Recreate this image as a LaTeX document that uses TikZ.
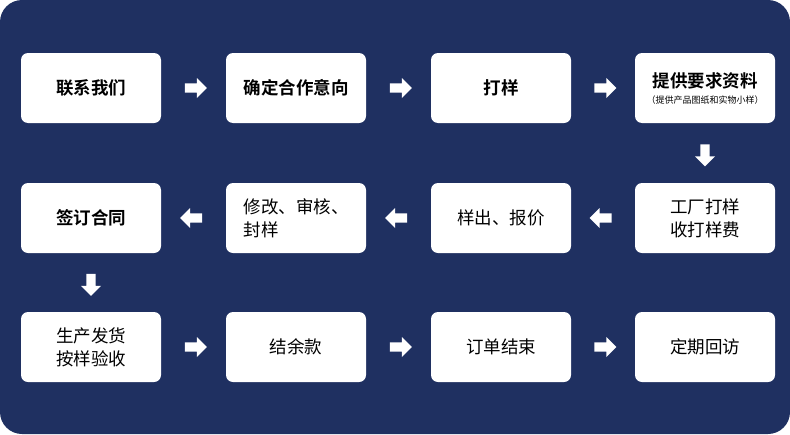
\documentclass[tikz,border=0pt]{standalone}
\usepackage{fontspec}
\newfontfamily\cjk{Noto Sans CJK SC}
\newfontfamily\cjkb{Noto Sans CJK SC Bold}
\usetikzlibrary{shapes.arrows,calc}
\definecolor{navy}{HTML}{1F3061}
\tikzset{x=1pt,y=-1pt,
 box/.style={fill=white,rounded corners=7pt,minimum width=140pt,minimum height=70pt,align=center,font=\cjk\fontsize{17.5}{23}\selectfont,text=black},
 bbox/.style={box,font=\cjkb\fontsize{17.5}{23}\selectfont},
 arr/.style={single arrow,fill=white,draw=none,minimum height=22pt,minimum width=20pt,single arrow head extend=3pt,inner sep=2.5pt}}
\begin{document}
\begin{tikzpicture}
\useasboundingbox (0,0) rectangle (790,434);
\fill[navy,rounded corners=22pt] (0,0) rectangle (790,434);
\node[bbox] (a) at (91,88) {联系我们};
\node[bbox] (b) at (296,88) {确定合作意向};
\node[bbox] (c) at (501,88) {打样};
\node[bbox] (d) at (705,88) {提供要求资料\\[-7pt]{\cjk\fontsize{9}{10}\selectfont（提供产品图纸和实物小样）}};
\node[box] (e) at (705,218) {工厂打样\\收打样费};
\node[box] (f) at (501,218) {样出、报价};
\node[box,align=left] (g) at (296,218) {修改、审核、\\封样};
\node[bbox] (h) at (91,218) {签订合同};
\node[box] (i) at (91,347) {生产发货\\按样验收};
\node[box] (j) at (296,347) {结余款};
\node[box] (k) at (501,347) {订单结束};
\node[box] (l) at (705,347) {定期回访};
\node[arr] (ab) at ($(a)!0.5!(b)$) {};
\node[arr] (bc) at ($(b)!0.5!(c)$) {};
\node[arr] (cd) at ($(c)!0.5!(d)$) {};
\node[arr,rotate=-90] (de) at ($(d)!0.5!(e)$) {};
\node[arr,rotate=180] (ef) at ($(e)!0.5!(f)$) {};
\node[arr,rotate=180] (fg) at ($(f)!0.5!(g)$) {};
\node[arr,rotate=180] (gh) at ($(g)!0.5!(h)$) {};
\node[arr,rotate=-90] (hi) at ($(h)!0.5!(i)$) {};
\node[arr] (ij) at ($(i)!0.5!(j)$) {};
\node[arr] (jk) at ($(j)!0.5!(k)$) {};
\node[arr] (kl) at ($(k)!0.5!(l)$) {};
\end{tikzpicture}
\end{document}
